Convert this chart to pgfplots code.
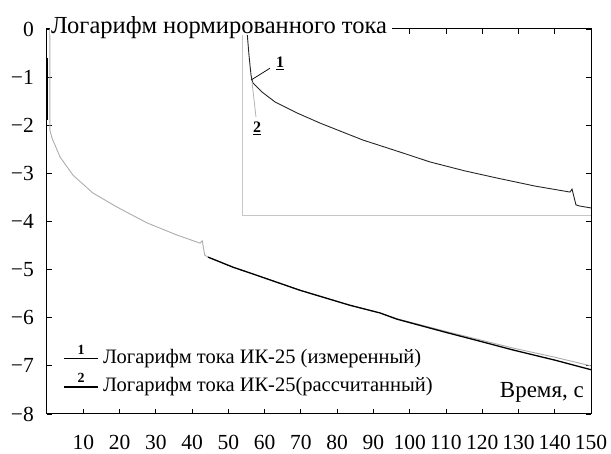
\documentclass[border=0pt]{standalone}
\usepackage{pgfplots}
\pgfplotsset{compat=1.18}
\usepackage{fontspec}
\setmainfont{Liberation Serif}
\begin{document}
\begin{tikzpicture}[x=1pt,y=1pt]
\useasboundingbox (0,0) rectangle (611,454);
\begin{axis}[
  at={(47pt,40pt)}, anchor=south west, scale only axis,
  width=544pt, height=385pt,
  xmin=0, xmax=150, ymin=-8, ymax=0,
  xtick={10,20,...,150}, ytick={-8,-7,...,0},
  yticklabels={−8,−7,−6,−5,−4,−3,−2,−1,0},
  /pgf/number format/assume math mode=true,
  tick align=inside, major tick length=5pt,
  tick style={black, line width=0.8pt},
  axis line style={line width=1pt},
  ticklabel style={font=\fontsize{21.5}{21.5}\selectfont},
  xticklabel style={anchor=center, inner sep=0pt, yshift=-28pt},
  yticklabel style={anchor=east, inner sep=0pt, xshift=-13pt},
  clip=false,
]
% measured (grey)
\addplot[gray!65, line width=0.9pt] coordinates {
(0.8,0)(0.8,-2.1)(1.4,-2.27)(3.6,-2.66)(7.2,-3.04)(12.7,-3.41)(19.3,-3.70)
(27.6,-4.03)(35.8,-4.28)(42.2,-4.45)(42.8,-4.40)(43.5,-4.70)(44.4,-4.74)
(51.3,-4.95)(56,-5.07)(69.8,-5.43)(83.5,-5.74)(91.8,-5.90)(96.5,-6.02)(110.3,-6.29)
(120,-6.47)(128.5,-6.63)(140,-6.82)(150,-7.0)};
% calculated (black)
\addplot[black, line width=1.3pt] coordinates {
(44.4,-4.74)(51.3,-4.95)(56,-5.07)(69.8,-5.43)(83.5,-5.74)(91.8,-5.90)
(96.5,-6.03)(110.3,-6.31)(120,-6.50)(128.5,-6.67)(140,-6.88)(150,-7.08)};
\addplot[black, line width=1pt] coordinates {(0.2,-0.6)(0.2,-1.9)};
\end{axis}
% inset
\begin{axis}[
  at={(242pt,238pt)}, anchor=south west, scale only axis,
  width=349pt, height=187pt,
  xmin=0, xmax=100, ymin=-10, ymax=0,
  axis lines*=left, ticks=none,
  axis line style={gray!45, line width=1pt, -},
  clip=false,
]
\addplot[black!85, line width=0.9pt] coordinates {
(1.43,-0.11)(2.0,-1.39)(2.58,-2.46)(2.87,-2.73)(3.15,-2.89)(5.73,-3.37)
(9.46,-3.90)(15.76,-4.49)(22.35,-5.03)(29.51,-5.56)(34.67,-5.94)(45.27,-6.58)
(53.87,-7.11)(63.90,-7.59)(73.07,-7.97)(83.95,-8.40)(93.98,-8.72)(94.56,-8.56)
(95.70,-9.41)(96.85,-9.47)(100,-9.57)};
\addplot[gray!60, line width=0.8pt] coordinates {(2.87,-2.83)(4.0,-4.7)};
\draw[black, line width=0.7pt] (axis cs:2.6,-2.73) -- (axis cs:8.0,-2.1);
\node[font=\bfseries\fontsize{16}{16}\selectfont] at (axis cs:10.9,-1.85) {\underline{1}};
\node[font=\bfseries\fontsize{16}{16}\selectfont] at (axis cs:4.3,-5.3) {\underline{2}};
\end{axis}
% hide the top frame behind the title
\fill[white] (50,419) rectangle (392,430);
\node[anchor=base west, inner sep=0pt, font=\fontsize{24.5}{24.5}\selectfont]
  at (51,420) {Логарифм нормированного тока};
% legend
\draw[black, line width=1pt] (64,95) -- (98,95);
\node[font=\bfseries\fontsize{14}{14}\selectfont] at (81,104) {1};
\draw[black, line width=2.6pt] (64,67) -- (98,67);
\node[font=\bfseries\fontsize{14}{14}\selectfont] at (81,76) {2};
\node[anchor=west, inner sep=0pt, font=\fontsize{20.5}{20.5}\selectfont] at (103,95) {Логарифм тока ИК-25 (измеренный)};
\node[anchor=west, inner sep=0pt, font=\fontsize{20.5}{20.5}\selectfont] at (103,67) {Логарифм тока ИК-25(рассчитанный)};
\node[anchor=east, inner sep=0pt, font=\fontsize{23}{23}\selectfont] at (584,62) {Время, с};
\end{tikzpicture}
\end{document}
